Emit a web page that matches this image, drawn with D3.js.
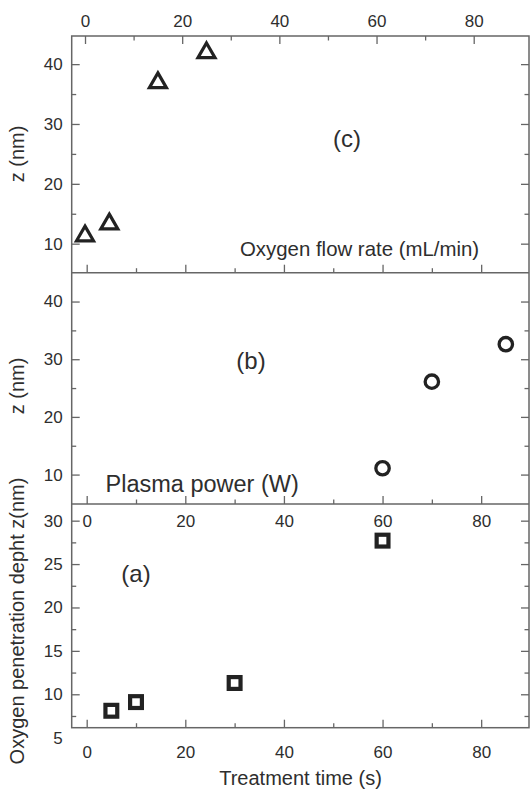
<!DOCTYPE html>
<html>
<head>
<meta charset="utf-8">
<script src="https://cdn.jsdelivr.net/npm/d3@7"></script>
<style>
  html, body { margin: 0; padding: 0; background: #fff; }
  svg { display: block; }
  text { font-family: "Liberation Sans", Arial, Helvetica, sans-serif; fill: #2e2e2e; }
</style>
</head>
<body>
<svg id="chart" width="530" height="789"></svg>
<script>
// (c) oxygen flow rate series
const flowRate = [0, 5, 15, 25];
const flowDepth = [11.3, 13.3, 36.9, 41.9];
// (b) plasma power series
const plasmaPower = [60, 70, 85];
const powerDepth = [11.1, 26.1, 32.6];
// (a) treatment time series
const treatTime = [5, 10, 30, 60];
const timeDepth = [8.1, 9.1, 11.3, 27.7];

// axis ticks
const xMajor = [0, 20, 40, 60, 80];
const xMinor = [10, 30, 50, 70];
const yMajorCB = [10, 20, 30, 40];
const yMinorCB = [15, 25, 35];
const yMajorA = [5, 10, 15, 20, 25, 30];
const yMinorA = [7.5, 12.5, 17.5, 22.5, 27.5];

const svg = d3.select("#chart");
const L = 71.7, R = 529;
const yTop = 36, yCB = 272.7, yBA = 504, yBot = 727.7;
const lineColor = "#666";
const markColor = "#222";
const tickFont = 17;

// x scales: flow-rate axis on top, shared power/time axis below
const xC = d3.scaleLinear().domain([-2.74, 91.38]).range([L, R]);
const xAB = d3.scaleLinear().domain([-3.04, 89.7]).range([L, R]);

const yC = d3.scaleLinear().domain([5.15, 44.7]).range([yCB, yTop]);
const yB = d3.scaleLinear().domain([4.9, 45.0]).range([yBA, yCB]);
const yA = d3.scaleLinear().domain([6.15, 31.92]).range([yBot, yBA]);

function styleAxis(g) {
  g.select(".domain").remove();
  g.selectAll(".tick line").attr("stroke", lineColor).attr("stroke-width", 1.3);
  g.selectAll(".tick text").attr("fill", "#2e2e2e").attr("font-size", tickFont)
    .attr("font-family", "Liberation Sans, Arial, sans-serif");
}

function addAxis(axis, tx, ty) {
  const g = svg.append("g").attr("transform", `translate(${tx},${ty})`).call(axis);
  styleAxis(g);
  return g;
}

// top axis of (c)
addAxis(d3.axisTop(xC).tickValues(xMajor).tickSizeInner(-8).tickSizeOuter(0).tickPadding(9), 0, yTop);
addAxis(d3.axisTop(xC).tickValues(xMinor).tickSizeInner(-4.5).tickSizeOuter(0).tickFormat(""), 0, yTop);
// bottom edge of (c)
addAxis(d3.axisBottom(xAB).tickValues(xMajor).tickSizeInner(-8).tickSizeOuter(0).tickFormat(""), 0, yCB);
addAxis(d3.axisBottom(xAB).tickValues(xMinor).tickSizeInner(-4.5).tickSizeOuter(0).tickFormat(""), 0, yCB);
// bottom edge of (b), labels fall into (a)
addAxis(d3.axisBottom(xAB).tickValues(xMajor).tickSizeInner(-8).tickSizeOuter(0).tickPadding(11), 0, yBA);
addAxis(d3.axisBottom(xAB).tickValues(xMinor).tickSizeInner(-4.5).tickSizeOuter(0).tickFormat(""), 0, yBA);
// bottom axis of (a)
addAxis(d3.axisBottom(xAB).tickValues(xMajor).tickSizeInner(-8).tickSizeOuter(0).tickPadding(18), 0, yBot);
addAxis(d3.axisBottom(xAB).tickValues(xMinor).tickSizeInner(-4.5).tickSizeOuter(0).tickFormat(""), 0, yBot);

// y axes, labelled on the left, mirrored ticks on the right
[[yC, yMajorCB, yMinorCB], [yB, yMajorCB, yMinorCB]].forEach(([ys, maj, min]) => {
  addAxis(d3.axisLeft(ys).tickValues(maj).tickSizeInner(-8).tickSizeOuter(0).tickPadding(9), L, 0);
  addAxis(d3.axisLeft(ys).tickValues(min).tickSizeInner(-4.5).tickSizeOuter(0).tickFormat(""), L, 0);
  addAxis(d3.axisRight(ys).tickValues(maj).tickSizeInner(-8).tickSizeOuter(0).tickFormat(""), R, 0);
  addAxis(d3.axisRight(ys).tickValues(min).tickSizeInner(-4.5).tickSizeOuter(0).tickFormat(""), R, 0);
});
const gA = addAxis(d3.axisLeft(yA).tickValues(yMajorA).tickSizeInner(-8).tickSizeOuter(0).tickPadding(9), L, 0);
gA.selectAll(".tick").filter(d => yA(d) > yBot).select("line").remove();
addAxis(d3.axisLeft(yA).tickValues(yMinorA).tickSizeInner(-4.5).tickSizeOuter(0).tickFormat(""), L, 0);
addAxis(d3.axisRight(yA).tickValues(yMajorA.filter(v => yA(v) <= yBot)).tickSizeInner(-8).tickSizeOuter(0).tickFormat(""), R, 0);
addAxis(d3.axisRight(yA).tickValues(yMinorA).tickSizeInner(-4.5).tickSizeOuter(0).tickFormat(""), R, 0);

// frame and panel dividers
const frame = svg.append("g").attr("stroke", lineColor).attr("stroke-width", 1.5).attr("fill", "none");
frame.append("rect").attr("x", L).attr("y", yTop).attr("width", R - L).attr("height", yBot - yTop);
[yCB, yBA].forEach(y => frame.append("line").attr("x1", L).attr("x2", R).attr("y1", y).attr("y2", y));

// markers
const tri = d3.symbol(d3.symbolTriangle, 125);
svg.append("g").selectAll("path").data(flowRate).join("path")
  .attr("d", tri)
  .attr("transform", (d, i) => `translate(${xC(d)},${yC(flowDepth[i])})`)
  .attr("fill", "none").attr("stroke", markColor).attr("stroke-width", 3.2)
  .attr("stroke-linejoin", "miter");

svg.append("g").selectAll("circle").data(plasmaPower).join("circle")
  .attr("cx", d => xAB(d)).attr("cy", (d, i) => yB(powerDepth[i])).attr("r", 6.7)
  .attr("fill", "none").attr("stroke", markColor).attr("stroke-width", 3.3);

const sq = 11.8;
svg.append("g").selectAll("rect").data(treatTime).join("rect")
  .attr("x", d => xAB(d) - sq / 2).attr("y", (d, i) => yA(timeDepth[i]) - sq / 2)
  .attr("width", sq).attr("height", sq)
  .attr("fill", "none").attr("stroke", markColor).attr("stroke-width", 4.2);

// axis titles
function vTitle(text, cy) {
  svg.append("text").attr("transform", `translate(24,${cy}) rotate(-90)`)
    .attr("text-anchor", "middle").attr("font-size", 20).text(text);
}
vTitle("z (nm)", 154);
vTitle("z (nm)", 386);
vTitle("Oxygen penetration depht z(nm)", 621);

svg.append("text").attr("x", 300.5).attr("y", 785).attr("text-anchor", "middle")
  .attr("font-size", 20).text("Treatment time (s)");
svg.append("text").attr("x", 240).attr("y", 256).attr("font-size", 20.4)
  .text("Oxygen flow rate (mL/min)");
svg.append("text").attr("x", 105.5).attr("y", 491.5).attr("font-size", 23.5)
  .text("Plasma power (W)");

// panel labels
[["(c)", 347, 147], ["(b)", 251, 369], ["(a)", 136, 582]].forEach(([t, x, y]) => {
  svg.append("text").attr("x", x).attr("y", y).attr("text-anchor", "middle")
    .attr("font-size", 24).text(t);
});
</script>
</body>
</html>
